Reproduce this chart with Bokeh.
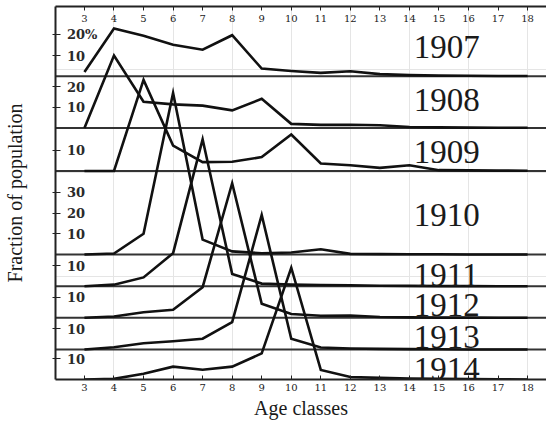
from bokeh.plotting import figure
from bokeh.models import Range1d, FixedTicker, LinearAxis, ColumnDataSource, CustomLabelingPolicy
from bokeh.core.properties import value
from bokeh.embed import file_html
from bokeh.resources import INLINE

# ---- data (percent of catch by age class) ----
ages = list(range(3, 19))
years = ["1907", "1908", "1909", "1910", "1911", "1912", "1913", "1914"]
v1907 = [2, 23, 19.5, 15.2, 12.8, 19.8, 3.7, 2.5, 1.6, 2.4, 1.0, 0.5, 0.3, 0.2, 0.1, 0.1]
v1908 = [0, 35, 12.7, 11.4, 10.8, 8.5, 14.1, 2.0, 1.5, 1.6, 1.3, 0.5, 0.3, 0.2, 0.1, 0.1]
v1909 = [0, 0, 44, 12.3, 4.3, 4.5, 6.7, 17.6, 3.6, 2.8, 1.5, 2.8, 0.4, 0.3, 0.2, 0.1]
v1910 = [0, 0.5, 10, 78, 7.2, 1.5, 0.6, 1.0, 2.5, 0.3, 0.2, 0.1, 0.1, 0, 0, 0]
v1911 = [0, 0.8, 4.3, 16, 71, 6, 1.3, 0.8, 0.6, 0.5, 0.3, 0.2, 0.1, 0.1, 0, 0]
v1912 = [0, 0.6, 2.7, 3.9, 14.8, 65, 6.8, 1.8, 1.0, 1.1, 0.4, 0.2, 0.1, 0.1, 0, 0]
v1913 = [0, 1.1, 3, 4, 5.2, 13.2, 65, 5.2, 1.0, 0.5, 0.3, 0.2, 0.1, 0, 0, 0]
v1914 = [0, 0.3, 2.8, 6.2, 4.7, 6.2, 12.6, 54, 4.6, 1.2, 0.8, 0.5, 0.3, 0.2, 0.1, 0]
series = [v1907, v1908, v1909, v1910, v1911, v1912, v1913, v1914]
panel_tick_values = [[10, 20], [10, 20], [10], [10, 20, 30], [10], [10], [10], [10]]
age_labels = [str(a) for a in ages]

# ---- layout of the stacked panels (baseline of each year, in percent units) ----
PX_PER_UNIT = 2.07
X0, X1 = 2.02, 18.64
XPX = 492 / (X1 - X0)
baseline_px_from_bottom = [303.3, 251.5, 208.5, 125.0, 93.2, 61.7, 30.0, 0.0]
offsets = [b / PX_PER_UNIT for b in baseline_px_from_bottom]
label_raise_px = [29.7, 28.5, 19.5, 40.0, 11.8, 13.3, 13.0, 11.0]

FRAME_H = 373
YTOP = FRAME_H / PX_PER_UNIT
p = figure(width=546, height=423,
           x_range=Range1d(X0, X1), y_range=Range1d(0, YTOP),
           output_backend="svg", toolbar_location=None,
           x_axis_location=None, y_axis_location=None,
           min_border_left=54, min_border_right=0, min_border_top=6, min_border_bottom=44)
p.outline_line_color = None
p.background_fill_color = "white"

INK = "#1a1a1a"
hide_labels = CustomLabelingPolicy(code="""
for (let i = 0; i < indices.size; i++) {
  if (indices.unset) { indices.unset(i) } else { indices.set(i, false) }
}
return indices
""")

# bottom axis
xb = LinearAxis(ticker=FixedTicker(ticks=ages, minor_ticks=[]), axis_label="Age classes")
xb.major_tick_in = 4
xb.major_tick_out = 0
xb.major_label_standoff = 4
xb.major_label_text_font = "DejaVu Serif"
xb.major_label_text_font_size = "10px"
xb.major_label_text_color = INK
xb.axis_line_width = 2
xb.axis_line_color = "#222222"
xb.major_tick_line_color = "#222222"
xb.axis_label_text_font = "Liberation Serif"
xb.axis_label_text_font_size = "20px"
xb.axis_label_text_font_style = "normal"
xb.axis_label_standoff = 3
xb.axis_label_text_color = INK
p.add_layout(xb, "below")

# top axis: line and inward ticks; its labels sit inside the frame (text below)
xt = LinearAxis(ticker=FixedTicker(ticks=ages, minor_ticks=[]), major_label_policy=hide_labels)
xt.major_tick_in = 4
xt.major_tick_out = 0
xt.major_label_standoff = 0
xt.major_label_text_font_size = "0px"
xt.axis_line_width = 2
xt.axis_line_color = "#222222"
xt.major_tick_line_color = "#222222"
p.add_layout(xt, "above")

# left axis with per-panel ticks
yticks = []
ylabels = []
for i, off in enumerate(offsets):
    for tv in panel_tick_values[i]:
        yticks.append(off + tv)
        ylabels.append("20%" if (i == 0 and tv == 20) else str(tv))
yl = LinearAxis(ticker=FixedTicker(ticks=yticks, minor_ticks=[]),
                axis_label="Fraction of population", major_label_policy=hide_labels)
yl.major_tick_in = 5
yl.major_tick_out = 3
yl.major_label_standoff = 0
yl.major_label_text_font_size = "0px"
yl.axis_line_width = 2
yl.axis_line_color = "#222222"
yl.major_tick_line_color = "#222222"
yl.axis_label_text_font = "Liberation Serif"
yl.axis_label_text_font_size = "20px"
yl.axis_label_text_font_style = "normal"
yl.axis_label_text_color = INK
yl.axis_label_standoff = 27
p.add_layout(yl, "left")

# tick labels drawn inside the frame, as in the original
top_src = ColumnDataSource(dict(x=ages, y=[YTOP - 12 / PX_PER_UNIT] * len(ages), t=age_labels))
p.text(x="x", y="y", text="t", source=top_src, text_font=value("DejaVu Serif"),
       text_font_size="10px", text_align="center", text_baseline="middle", text_color=INK)
yl_src = ColumnDataSource(dict(x=[X0 + 11.5 / XPX] * len(yticks), y=yticks, t=ylabels))
p.text(x="x", y="y", text="t", source=yl_src, text_font=value("DejaVu Serif"),
       text_font_size="13px", text_font_style="bold", text_align="left",
       text_baseline="middle", text_color="#2a2a2a")

# panel baselines
for off in offsets[:-1]:
    p.line([X0, X1], [off, off], line_color="#333333", line_width=2)

# data lines
for off, vals in zip(offsets, series):
    p.line(ages, [off + v for v in vals], line_color="#111111", line_width=2.6,
           line_join="miter")

# year labels
lab = ColumnDataSource(dict(
    x=[14.15] * len(years),
    y=[off + r / PX_PER_UNIT for off, r in zip(offsets, label_raise_px)],
    t=years))
p.text(x="x", y="y", text="t", source=lab, text_font=value("Liberation Serif"),
       text_font_size="33px", text_baseline="alphabetic", text_align="left",
       text_color=INK)

open("out.html", "w").write(file_html(p, INLINE))
